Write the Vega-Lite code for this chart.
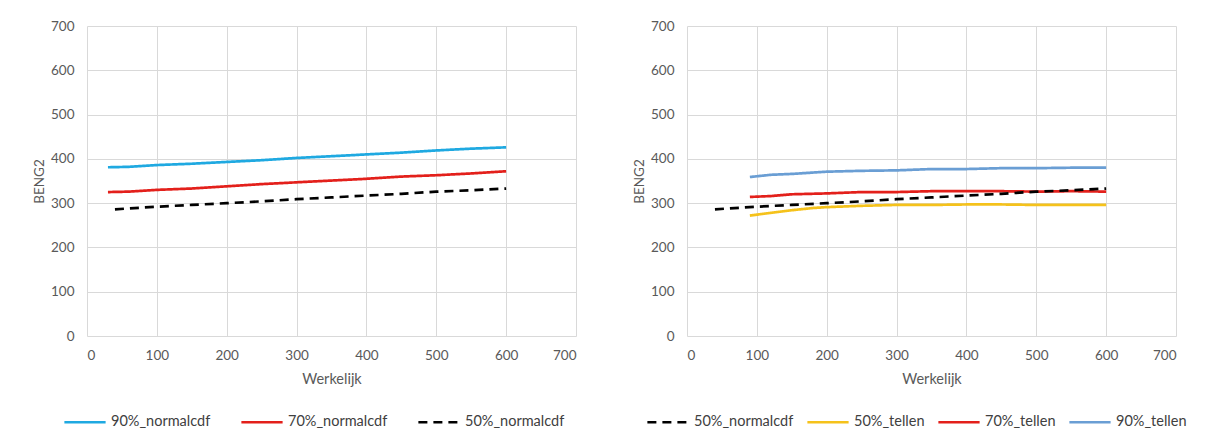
{
  "$schema": "https://vega.github.io/schema/vega-lite/v6.json",
  "padding": {"left": 32, "top": 19, "right": 5, "bottom": 5},
  "background": "white",
  "config": {
    "font": "Lato",
    "view": {"stroke": null},
    "axis": {
      "labelColor": "#595959", "titleColor": "#595959",
      "labelFont": "Lato", "titleFont": "Lato",
      "labelFontSize": 13.5, "titleFontSize": 14.5, "titleFontWeight": "normal",
      "gridColor": "#d9d9d9", "gridWidth": 1, "ticks": false, "domain": false
    },
    "legend": {
      "labelFont": "Lato", "labelFontSize": 14.5, "labelColor": "#404040",
      "symbolType": "stroke", "symbolSize": 1700, "symbolStrokeWidth": 2.5,
      "labelOffset": 4, "padding": 0
    }
  },
  "datasets": {
    "left": [
      {"serie": "90%_normalcdf", "x": 30, "y": 381}, {"serie": "90%_normalcdf", "x": 60, "y": 382},
      {"serie": "90%_normalcdf", "x": 100, "y": 386}, {"serie": "90%_normalcdf", "x": 150, "y": 389},
      {"serie": "90%_normalcdf", "x": 200, "y": 393}, {"serie": "90%_normalcdf", "x": 250, "y": 397},
      {"serie": "90%_normalcdf", "x": 300, "y": 402}, {"serie": "90%_normalcdf", "x": 350, "y": 406},
      {"serie": "90%_normalcdf", "x": 400, "y": 410}, {"serie": "90%_normalcdf", "x": 450, "y": 414},
      {"serie": "90%_normalcdf", "x": 500, "y": 419}, {"serie": "90%_normalcdf", "x": 550, "y": 423},
      {"serie": "90%_normalcdf", "x": 600, "y": 426},
      {"serie": "70%_normalcdf", "x": 30, "y": 325}, {"serie": "70%_normalcdf", "x": 60, "y": 326},
      {"serie": "70%_normalcdf", "x": 100, "y": 330}, {"serie": "70%_normalcdf", "x": 150, "y": 333},
      {"serie": "70%_normalcdf", "x": 200, "y": 338}, {"serie": "70%_normalcdf", "x": 250, "y": 343},
      {"serie": "70%_normalcdf", "x": 300, "y": 347}, {"serie": "70%_normalcdf", "x": 350, "y": 351},
      {"serie": "70%_normalcdf", "x": 400, "y": 355}, {"serie": "70%_normalcdf", "x": 450, "y": 360},
      {"serie": "70%_normalcdf", "x": 500, "y": 363}, {"serie": "70%_normalcdf", "x": 550, "y": 367},
      {"serie": "70%_normalcdf", "x": 600, "y": 372},
      {"serie": "50%_normalcdf", "x": 40, "y": 286}, {"serie": "50%_normalcdf", "x": 100, "y": 292},
      {"serie": "50%_normalcdf", "x": 150, "y": 296}, {"serie": "50%_normalcdf", "x": 200, "y": 300},
      {"serie": "50%_normalcdf", "x": 250, "y": 304}, {"serie": "50%_normalcdf", "x": 300, "y": 309},
      {"serie": "50%_normalcdf", "x": 350, "y": 313}, {"serie": "50%_normalcdf", "x": 400, "y": 317},
      {"serie": "50%_normalcdf", "x": 450, "y": 321}, {"serie": "50%_normalcdf", "x": 500, "y": 326},
      {"serie": "50%_normalcdf", "x": 550, "y": 329}, {"serie": "50%_normalcdf", "x": 600, "y": 333}
    ],
    "right": [
      {"serie": "50%_tellen", "x": 90, "y": 272}, {"serie": "50%_tellen", "x": 120, "y": 278},
      {"serie": "50%_tellen", "x": 150, "y": 284}, {"serie": "50%_tellen", "x": 180, "y": 289},
      {"serie": "50%_tellen", "x": 200, "y": 291}, {"serie": "50%_tellen", "x": 250, "y": 294},
      {"serie": "50%_tellen", "x": 300, "y": 296}, {"serie": "50%_tellen", "x": 350, "y": 296},
      {"serie": "50%_tellen", "x": 400, "y": 297}, {"serie": "50%_tellen", "x": 450, "y": 297},
      {"serie": "50%_tellen", "x": 500, "y": 296}, {"serie": "50%_tellen", "x": 550, "y": 296},
      {"serie": "50%_tellen", "x": 600, "y": 296},
      {"serie": "70%_tellen", "x": 90, "y": 314}, {"serie": "70%_tellen", "x": 120, "y": 316},
      {"serie": "70%_tellen", "x": 150, "y": 320}, {"serie": "70%_tellen", "x": 200, "y": 322},
      {"serie": "70%_tellen", "x": 250, "y": 325}, {"serie": "70%_tellen", "x": 300, "y": 325},
      {"serie": "70%_tellen", "x": 350, "y": 327}, {"serie": "70%_tellen", "x": 400, "y": 327},
      {"serie": "70%_tellen", "x": 450, "y": 327}, {"serie": "70%_tellen", "x": 500, "y": 326},
      {"serie": "70%_tellen", "x": 550, "y": 327}, {"serie": "70%_tellen", "x": 600, "y": 326},
      {"serie": "90%_tellen", "x": 90, "y": 359}, {"serie": "90%_tellen", "x": 120, "y": 364},
      {"serie": "90%_tellen", "x": 150, "y": 366}, {"serie": "90%_tellen", "x": 200, "y": 371},
      {"serie": "90%_tellen", "x": 250, "y": 373}, {"serie": "90%_tellen", "x": 300, "y": 374},
      {"serie": "90%_tellen", "x": 350, "y": 377}, {"serie": "90%_tellen", "x": 400, "y": 377},
      {"serie": "90%_tellen", "x": 450, "y": 379}, {"serie": "90%_tellen", "x": 500, "y": 379},
      {"serie": "90%_tellen", "x": 550, "y": 380}, {"serie": "90%_tellen", "x": 600, "y": 380},
      {"serie": "50%_normalcdf", "x": 40, "y": 286}, {"serie": "50%_normalcdf", "x": 100, "y": 292},
      {"serie": "50%_normalcdf", "x": 150, "y": 296}, {"serie": "50%_normalcdf", "x": 200, "y": 300},
      {"serie": "50%_normalcdf", "x": 250, "y": 304}, {"serie": "50%_normalcdf", "x": 300, "y": 309},
      {"serie": "50%_normalcdf", "x": 350, "y": 313}, {"serie": "50%_normalcdf", "x": 400, "y": 317},
      {"serie": "50%_normalcdf", "x": 450, "y": 321}, {"serie": "50%_normalcdf", "x": 500, "y": 326},
      {"serie": "50%_normalcdf", "x": 550, "y": 329}, {"serie": "50%_normalcdf", "x": 600, "y": 333}
    ]
  },
  "bounds": "flush",
  "spacing": 111,
  "resolve": {"scale": {"color": "independent", "strokeDash": "independent"}, "legend": {"color": "independent", "strokeDash": "independent"}},
  "hconcat": [
    {
      "width": 489, "height": 310,
      "data": {"name": "left"},
      "mark": {"type": "line", "strokeWidth": 2.7},
      "encoding": {
        "x": {"field": "x", "type": "quantitative", "scale": {"domain": [0, 700], "nice": false},
              "axis": {"title": "Werkelijk", "values": [0, 100, 200, 300, 400, 500, 600, 700], "labelPadding": 12, "titlePadding": 11}},
        "y": {"field": "y", "type": "quantitative", "scale": {"domain": [0, 700], "nice": false},
              "axis": {"title": "BENG2", "titleFontSize": 13.5, "values": [0, 100, 200, 300, 400, 500, 600, 700], "labelPadding": 13, "titlePadding": 4}},
        "color": {"field": "serie", "type": "nominal",
                  "scale": {"domain": ["90%_normalcdf", "70%_normalcdf", "50%_normalcdf"], "range": ["#1FA9E1", "#E3201B", "#000000"]},
                  "legend": {"title": null, "orient": "none", "direction": "horizontal", "legendX": -24, "legendY": 374, "columnPadding": 25}},
        "strokeDash": {"field": "serie", "type": "nominal",
                  "scale": {"domain": ["90%_normalcdf", "70%_normalcdf", "50%_normalcdf"], "range": [[1, 0], [1, 0], [9, 6]]},
                  "legend": {"title": null, "orient": "none", "direction": "horizontal", "legendX": -24, "legendY": 374, "columnPadding": 25}}
      }
    },
    {
      "width": 489, "height": 310,
      "data": {"name": "right"},
      "mark": {"type": "line", "strokeWidth": 2.7},
      "encoding": {
        "x": {"field": "x", "type": "quantitative", "scale": {"domain": [0, 700], "nice": false},
              "axis": {"title": "Werkelijk", "values": [0, 100, 200, 300, 400, 500, 600, 700], "labelPadding": 12, "titlePadding": 11}},
        "y": {"field": "y", "type": "quantitative", "scale": {"domain": [0, 700], "nice": false},
              "axis": {"title": "BENG2", "titleFontSize": 13.5, "values": [0, 100, 200, 300, 400, 500, 600, 700], "labelPadding": 13, "titlePadding": 4}},
        "color": {"field": "serie", "type": "nominal",
                  "scale": {"domain": ["50%_normalcdf", "50%_tellen", "70%_tellen", "90%_tellen"], "range": ["#000000", "#F5C21B", "#E3201B", "#6A9ED4"]},
                  "legend": {"title": null, "orient": "none", "direction": "horizontal", "legendX": -41, "legendY": 374, "columnPadding": 8}},
        "strokeDash": {"field": "serie", "type": "nominal",
                  "scale": {"domain": ["50%_normalcdf", "50%_tellen", "70%_tellen", "90%_tellen"], "range": [[9, 6], [1, 0], [1, 0], [1, 0]]},
                  "legend": {"title": null, "orient": "none", "direction": "horizontal", "legendX": -41, "legendY": 374, "columnPadding": 8}}
      }
    }
  ]
}
